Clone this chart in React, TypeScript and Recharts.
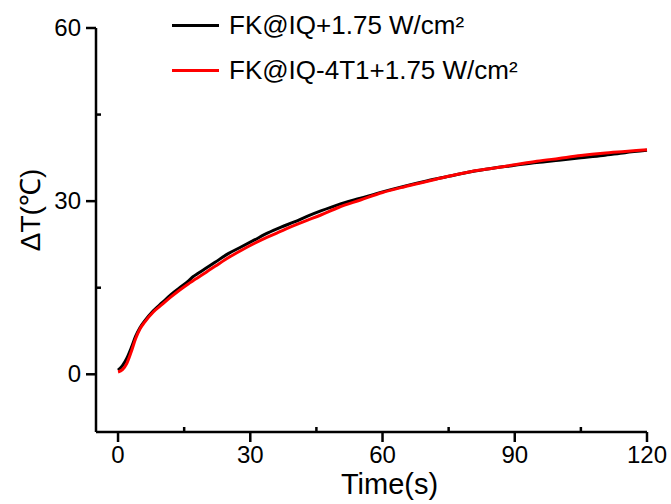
import React from 'react';
import { LineChart, Line, XAxis, YAxis, Legend, Label } from 'recharts';

// time (s) and temperature rise (°C)
const times = [0, 1, 2, 3, 4, 5, 6, 8, 10, 12, 14, 16, 17, 18, 20, 22, 25, 28, 31, 34, 37, 40, 43, 46, 50, 55, 60, 65, 70, 75, 80, 85, 90, 95, 100, 105, 110, 115, 120];
const fkIq = [0.7, 1.5, 2.8, 4.6, 6.6, 8.1, 9.2, 11.0, 12.4, 13.8, 15.0, 16.2, 16.9, 17.4, 18.4, 19.4, 20.9, 22.1, 23.3, 24.5, 25.5, 26.4, 27.4, 28.3, 29.4, 30.5, 31.6, 32.6, 33.5, 34.3, 35.1, 35.7, 36.2, 36.7, 37.1, 37.5, 37.9, 38.4, 38.8];
const fkIq4t1 = [0.4, 0.8, 1.9, 3.9, 6.2, 7.9, 9.0, 10.8, 12.1, 13.4, 14.6, 15.7, 16.2, 16.7, 17.7, 18.7, 20.2, 21.5, 22.7, 23.8, 24.8, 25.8, 26.7, 27.6, 28.9, 30.2, 31.5, 32.5, 33.4, 34.3, 35.1, 35.7, 36.3, 36.9, 37.4, 37.9, 38.3, 38.6, 38.9];

const xTicks = [0, 15, 30, 45, 60, 75, 90, 105, 120];
const yTicks = [0, 15, 30, 45, 60];

const data = times.map((t, i) => ({ t, a: fkIq[i], b: fkIq4t1[i] }));

const FONT = '"Liberation Sans", Arial, sans-serif';

const XTick = ({ x, y, payload }: any) => {
  const major = payload.value % 30 === 0;
  if (!major) return <line x1={x} x2={x} y1={y} y2={y - 5} stroke="#000" strokeWidth={2.5} />;
  return (
    <g>
      <line x1={x} x2={x} y1={y} y2={y + 10} stroke="#000" strokeWidth={2.5} />
      <text x={x} y={y + 31} textAnchor="middle" fontSize={24} fontFamily={FONT} fill="#000">
        {payload.value}
      </text>
    </g>
  );
};

const YTick = ({ x, y, payload }: any) => {
  const major = payload.value % 30 === 0;
  if (!major) return <line x1={x} x2={x + 5} y1={y} y2={y} stroke="#000" strokeWidth={2.5} />;
  return (
    <g>
      <line x1={x} x2={x - 10} y1={y} y2={y} stroke="#000" strokeWidth={2.5} />
      <text x={x - 15} y={y + 8} textAnchor="end" fontSize={24} fontFamily={FONT} fill="#000">
        {payload.value}
      </text>
    </g>
  );
};

const LegendBox = ({ payload }: any) => (
  <div style={{ fontFamily: FONT, fontSize: 26, color: '#000' }}>
    {(payload || []).map((p: any) => (
      <div key={p.value} style={{ display: 'flex', alignItems: 'center', height: 45 }}>
        <span style={{ display: 'inline-block', width: 47, height: 3, background: p.color, marginRight: 10 }} />
        <span>{p.value}</span>
      </div>
    ))}
  </div>
);

export default function App() {
  return (
    <div style={{ position: 'absolute', left: 0, top: 0, width: 671, height: 504, background: '#fff' }}>
      <LineChart width={671} height={504} data={data} margin={{ top: 28, right: 24, bottom: 71, left: 95 }}>
        <XAxis
          dataKey="t"
          type="number"
          domain={[-5, 120]}
          ticks={xTicks}
          interval={0}
          height={1}
          tickSize={0}
          tickMargin={0}
          tickLine={false}
          tick={<XTick />}
          axisLine={{ stroke: '#000', strokeWidth: 2.5 }}
        >
          <Label
            content={({ viewBox }: any) => (
              <text
                x={viewBox.x + viewBox.width / 2 + 18}
                y={viewBox.y + 62}
                textAnchor="middle"
                fontSize={29}
                fontFamily={FONT}
                fill="#000"
              >
                Time(s)
              </text>
            )}
          />
        </XAxis>
        <YAxis
          type="number"
          domain={[-10, 60]}
          ticks={yTicks}
          interval={0}
          width={1}
          tickSize={0}
          tickMargin={0}
          tickLine={false}
          tick={<YTick />}
          axisLine={{ stroke: '#000', strokeWidth: 2.5 }}
        >
          <Label
            content={({ viewBox }: any) => {
              const cx = viewBox.x - 65;
              const cy = viewBox.y + viewBox.height / 2 - 20;
              return (
                <text
                  x={cx}
                  y={cy}
                  textAnchor="middle"
                  dominantBaseline="central"
                  transform={`rotate(-90 ${cx} ${cy})`}
                  fontSize={28}
                  fontFamily={FONT}
                  fill="#000"
                >
                  ΔT(℃)
                </text>
              );
            }}
          />
        </YAxis>
        <Legend
          verticalAlign="middle"
          align="center"
          layout="vertical"
          content={<LegendBox />}
          wrapperStyle={{ left: 172, top: 3, width: 'auto', height: 'auto' }}
        />
        <Line
          type="monotone"
          dataKey="a"
          name="FK@IQ+1.75 W/cm²"
          stroke="#000"
          strokeWidth={3}
          dot={false}
          isAnimationActive={false}
        />
        <Line
          type="monotone"
          dataKey="b"
          name="FK@IQ-4T1+1.75 W/cm²"
          stroke="#ff0000"
          strokeWidth={3}
          dot={false}
          isAnimationActive={false}
        />
      </LineChart>
    </div>
  );
}
